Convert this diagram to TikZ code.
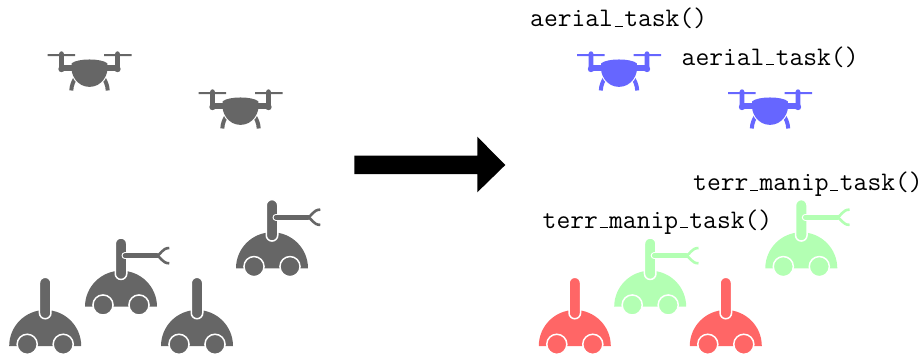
\documentclass[tikz,border=0pt]{standalone}
\usepackage{fontspec}
\definecolor{graybot}{HTML}{666666}
\definecolor{bluebot}{HTML}{6666FF}
\definecolor{greenbot}{HTML}{B3FFB3}
\definecolor{redbot}{HTML}{FF6666}
\newcommand{\tunder}{\kern.06em\vbox{\hrule width.3em height 1pt}\kern.06em}
\tikzset{
  x=1pt,y=-1pt,
  tasklabel/.style={anchor=base west,inner sep=0pt,font=\fontsize{26.8}{30}\selectfont\ttfamily},
  dronebody/.style={insert path={(-17.8,8.3) .. controls (-12,3.2) and (12,3.2) .. (17.8,8.3)
      .. controls (20,20) and (12,31.9) .. (0,31.9) .. controls (-12,31.9) and (-20,20) .. cycle}},
  pics/drone/.style={code={
    \draw[#1,line width=4pt] (-13,21) .. controls (-16,26) and (-18,30) .. (-18.2,35.5);
    \draw[#1,line width=4pt] (13,21) .. controls (16,26) and (18,30) .. (18.2,35.5);
    \draw[white,line width=2.2pt,dronebody];
    \fill[#1] (-42,-1) rectangle (-14.5,1) (14.5,-1) rectangle (42,1);
    \fill[#1] (-30.3,-1.4) rectangle (-25.7,14) (25.7,-1.4) rectangle (30.3,14);
    \fill[#1] (-28,-1.4) circle (2.3) (28,-1.4) circle (2.3) (-28,14) circle (3.2) (28,14) circle (3.2);
    \fill[#1] (-28,10.3) rectangle (28,15.5);
    \fill[#1,dronebody];
  }},
  pics/rover/.style={code={
    \fill[#1] (-36,0) arc[start angle=180,end angle=360,radius=36] -- cycle;
    \draw[white,line width=1.5pt,fill=#1] (-18,-1.7) circle (10.05) (18,-1.7) circle (10.05);
    \draw[white,line width=1.5pt,fill=#1] (-5.75,-63) arc[start angle=180,end angle=360,radius=5.75] -- (5.75,-33)
      arc[start angle=0,end angle=180,radius=5.75] -- cycle;
  }},
  pics/gripper/.style={code={
    \draw[white,line width=7pt,line cap=round] (4,-51) -- (20,-51);
    \draw[#1,line width=4.6pt,line cap=round] (4,-51) -- (36,-51);
    \draw[#1,line width=2.6pt] (48.3,-58.7) .. controls (41,-58.7) and (40,-52) .. (35.7,-51)
      .. controls (40,-50) and (41,-43.4) .. (48.3,-43.4);
  }},
}
\begin{document}
\begin{tikzpicture}
\useasboundingbox (0,0) rectangle (922,356);
% left group
\pic at (89.5,55) {drone=graybot};
\pic at (240.5,93) {drone=graybot};
\pic at (45.2,346) {rover=graybot};
\pic at (197,346) {rover=graybot};
\pic at (121,306.7) {rover=graybot};
\pic at (121,306.7) {gripper=graybot};
\pic at (272,268.3) {rover=graybot};
\pic at (272,268.3) {gripper=graybot};
% arrow
\fill[black] (354.3,155.7) -- (477.3,155.7) -- (477.3,136.7) -- (505.3,165) -- (477.3,192.3) -- (477.3,174) -- (354.3,174) -- cycle;
% right group
\pic at (619,55) {drone=bluebot};
\pic at (770,93) {drone=bluebot};
\pic at (574.8,346) {rover=redbot};
\pic at (725.8,346) {rover=redbot};
\pic at (650.2,306.7) {rover=greenbot};
\pic at (650.2,306.7) {gripper=greenbot};
\pic at (801.3,268.3) {rover=greenbot};
\pic at (801.3,268.3) {gripper=greenbot};
% labels
\node[tasklabel] (lab1) at (530,27) {aerial\tunder task()};
\node[tasklabel] (lab2) at (681.5,65) {aerial\tunder task()};
\node[tasklabel] (lab3) at (693,190.5) {terr\tunder manip\tunder task()};
\node[tasklabel] (lab4) at (542.5,228.2) {terr\tunder manip\tunder task()};
\end{tikzpicture}
\end{document}
